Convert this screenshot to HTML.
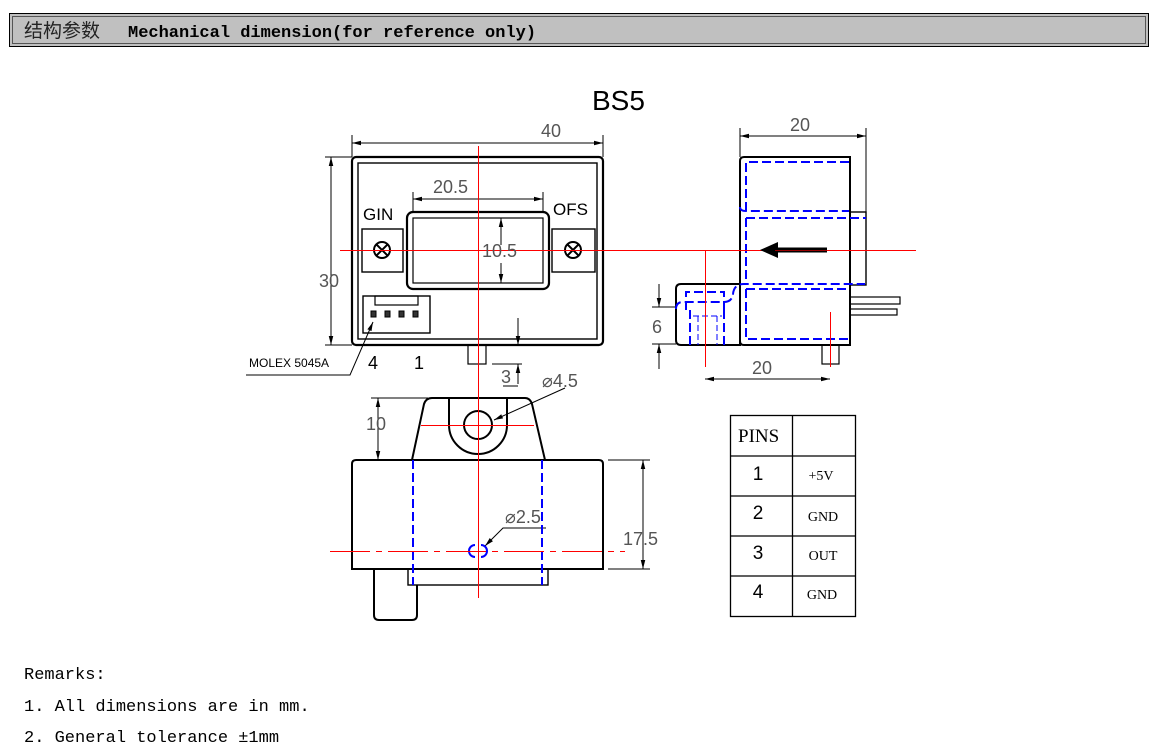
<!DOCTYPE html>
<html><head><meta charset="utf-8"><style>
html,body{margin:0;padding:0;background:#fff;width:1154px;height:753px;overflow:hidden}
svg{display:block}
.m{font-family:"Liberation Mono","Noto Serif CJK SC",monospace;fill:#000}
.d{font-family:"Liberation Sans",sans-serif;fill:#555;font-size:18px}
.s{font-family:"Liberation Sans",sans-serif;fill:#000}
</style></head><body>
<svg width="1154" height="753" viewBox="0 0 1154 753" xmlns="http://www.w3.org/2000/svg">
<defs>
<marker id="a" viewBox="0 0 10 10" refX="10" refY="5" markerWidth="9" markerHeight="9" orient="auto-start-reverse" markerUnits="userSpaceOnUse"><path d="M0,2.5 L10,5 L0,7.5z" fill="#000"/></marker>
</defs>
<!-- header -->
<rect x="9.5" y="13.5" width="1139" height="33" fill="#c0c0c0" stroke="#000"/>
<rect x="12.5" y="16.5" width="1133" height="27" fill="none" stroke="#555"/>
<text x="24" y="37" class="m" font-size="17"><tspan font-family="'Noto Sans CJK SC','WenQuanYi Zen Hei',sans-serif" font-size="19" fill="#222">结构参数</tspan><tspan x="128" font-weight="bold">Mechanical dimension(for reference only)</tspan></text>
<text x="592" y="110" class="s" font-size="28" fill="#222">BS5</text>

<g fill="none" stroke="#000" stroke-width="1">
<!-- front view -->
<rect x="352" y="157" width="251" height="188" rx="4" stroke-width="2.2"/>
<rect x="358" y="163" width="239" height="176" stroke-width="1.4"/>
<rect x="407" y="212" width="142" height="77" rx="6" stroke-width="2.2"/>
<rect x="413" y="218" width="130" height="65" stroke-width="1.2"/>
<rect x="362" y="229" width="41" height="43" stroke-width="1.4"/>
<rect x="552" y="229" width="43" height="43" stroke-width="1.4"/>
<circle cx="382" cy="250" r="8" stroke-width="2"/><path d="M376.5,244.5l11,11M387.5,244.5l-11,11" stroke-width="2"/>
<circle cx="573" cy="250" r="8" stroke-width="2"/><path d="M567.5,244.5l11,11M578.5,244.5l-11,11" stroke-width="2"/>
<rect x="363" y="296" width="67" height="37" stroke-width="1.4"/>
<rect x="375" y="296" width="43" height="9" stroke-width="1.2"/>
<g fill="#333" stroke-width="1"><rect x="371" y="311" width="5" height="6"/><rect x="385" y="311" width="5" height="6"/><rect x="399" y="311" width="5" height="6"/><rect x="413" y="311" width="5" height="6"/></g>
<rect x="468" y="345" width="18" height="19" stroke-width="1.2"/>
<!-- dims front -->
<path d="M352,135V157M603,135V157"/>
<path d="M352,143H603" marker-start="url(#a)" marker-end="url(#a)"/>
<path d="M325,157H352M325,345H352"/>
<path d="M331,157V345" marker-start="url(#a)" marker-end="url(#a)"/>
<path d="M413,192V212M543,192V212"/>
<path d="M413,199H543" marker-start="url(#a)" marker-end="url(#a)"/>
<path d="M501,245V218" marker-end="url(#a)"/><path d="M501,263V283" marker-end="url(#a)"/>
<path d="M518,318V345" marker-end="url(#a)"/><path d="M518,384V364" marker-end="url(#a)"/>
<path d="M492,364H522M503,386H518"/>
<path d="M373,322L350,375H246" marker-start="url(#a)"/>
<path d="M565,388L494,420" marker-end="url(#a)"/>

<!-- side view -->
<path d="M740,128V157M866,128V213"/>
<path d="M740,136H866" marker-start="url(#a)" marker-end="url(#a)"/>
<path d="M744,157H850V345H744Q740,345 740,341V161Q740,157 744,157Z" stroke-width="2"/>
<rect x="850" y="212" width="16" height="73" stroke-width="1.4"/>
<rect x="850" y="297" width="50" height="7" stroke-width="1.2"/>
<rect x="850" y="309" width="47" height="6" stroke-width="1.2"/>
<path d="M681,284H740V345H681Q676,345 676,340V289Q676,284 681,284Z" stroke-width="2"/>
<rect x="822" y="345" width="17" height="19" stroke-width="1.2"/>
<path d="M652,307H676M652,344H676"/>
<path d="M659,284V307" marker-end="url(#a)"/><path d="M659,369V344" marker-end="url(#a)"/>
<path d="M705,379H830" marker-start="url(#a)" marker-end="url(#a)"/>

<!-- bottom view -->
<path d="M412,460L424,404Q426,398 432,398H525Q530,398 532,404L545,460" stroke-width="2"/>
<path d="M449,398V425A29,29 0 0 0 507,425V398" stroke-width="2"/>
<circle cx="478" cy="425" r="14" stroke-width="2"/>
<path d="M356,460H599Q603,460 603,464V569H352V464Q352,460 356,460Z" stroke-width="2"/>
<rect x="408" y="569" width="140" height="16" stroke-width="1.4"/>
<path d="M374,569V615Q374,620 379,620H412Q417,620 417,615V585" stroke-width="2"/>
<path d="M371,398H428"/>
<path d="M378,398V460" marker-start="url(#a)" marker-end="url(#a)"/>
<path d="M608,460H650M608,569H650"/>
<path d="M643,460V569" marker-start="url(#a)" marker-end="url(#a)"/>
<path d="M546,528H503L485,546" marker-end="url(#a)"/>
</g>

<!-- blue hidden lines -->
<g fill="none" stroke="#00f" stroke-width="2" stroke-dasharray="9,4">
<path d="M849,162H746V211"/>
<path d="M740,207Q740,211 746,211H849"/>
<path d="M746,218H866"/>
<path d="M746,218V284"/>
<path d="M676,309Q676,302 683,302H724Q732,302 733,294Q734,284 744,284H865"/>
<path d="M746,289H849"/>
<path d="M746,289V339H849"/>
<path d="M686,310V292H724V310"/>
<path d="M690,310V345M724,310V345"/>
<path d="M413,460V585M542,460V585"/>
</g>
<g fill="none" stroke="#00f" stroke-width="1" stroke-dasharray="6,3"><path d="M693,316H722M698,316V345M717,316V345"/></g>
<path d="M475,545A6,6 0 0 0 475,557M481,545A6,6 0 0 1 481,557" fill="none" stroke="#00f" stroke-width="2"/>

<!-- red center lines -->
<g fill="none" stroke="#f00" stroke-width="1">
<path d="M478.5,146V598"/>
<path d="M340,250.5H916"/>
<path d="M705.5,250V367M830.5,312V367"/>
<path d="M421,425.5H534"/>
<path d="M330,551.5H625" stroke-dasharray="40,6,6,6"/>
</g>
<path d="M827,250H775" stroke="#000" stroke-width="5"/><path d="M778,242L760,250L778,258Z" fill="#000"/>
<path d="M775,250.5H827" stroke="#f00" stroke-width="1" opacity="0.6"/>

<!-- dim texts -->
<text x="541" y="137" class="d">40</text>
<text x="433" y="193" class="d">20.5</text>
<text x="482" y="257" class="d">10.5</text>
<text x="319" y="287" class="d">30</text>
<text x="501" y="383" class="d">3</text>
<text x="542" y="387" class="d">⌀4.5</text>
<text x="790" y="131" class="d">20</text>
<text x="652" y="333" class="d">6</text>
<text x="752" y="374" class="d">20</text>
<text x="366" y="430" class="d">10</text>
<text x="505" y="523" class="d">⌀2.5</text>
<text x="623" y="545" class="d">17.5</text>
<text x="363" y="220" class="s" font-size="17">GIN</text>
<text x="553" y="215" class="s" font-size="17">OFS</text>
<text x="249" y="367" class="s" font-size="12">MOLEX  5045A</text>
<text x="368" y="369" class="s" font-size="18">4</text>
<text x="414" y="369" class="s" font-size="18">1</text>

<!-- table -->
<g fill="none" stroke="#000" stroke-width="1.3">
<rect x="730.5" y="415.5" width="125" height="201"/>
<path d="M792.5,415V616M730,456H856M730,496H856M730,536H856M730,576H856"/>
</g>
<text x="738" y="442" font-size="19" font-family="'Liberation Serif',serif" fill="#000">PINS</text>
<g class="s" font-size="19" text-anchor="middle"><text x="758" y="480">1</text><text x="758" y="519">2</text><text x="758" y="559">3</text><text x="758" y="598">4</text></g>
<g font-family="'Liberation Serif',serif" font-size="14" text-anchor="middle" fill="#000"><text x="821" y="480">+5V</text><text x="823" y="521">GND</text><text x="823" y="560">OUT</text><text x="822" y="599">GND</text></g>

<!-- remarks -->
<g class="m" font-size="17">
<text x="24" y="679">Remarks:</text>
<text x="24" y="711">1. All dimensions are in mm.</text>
<text x="24" y="742">2. General tolerance ±1mm</text>
</g>
</svg>
</body></html>
